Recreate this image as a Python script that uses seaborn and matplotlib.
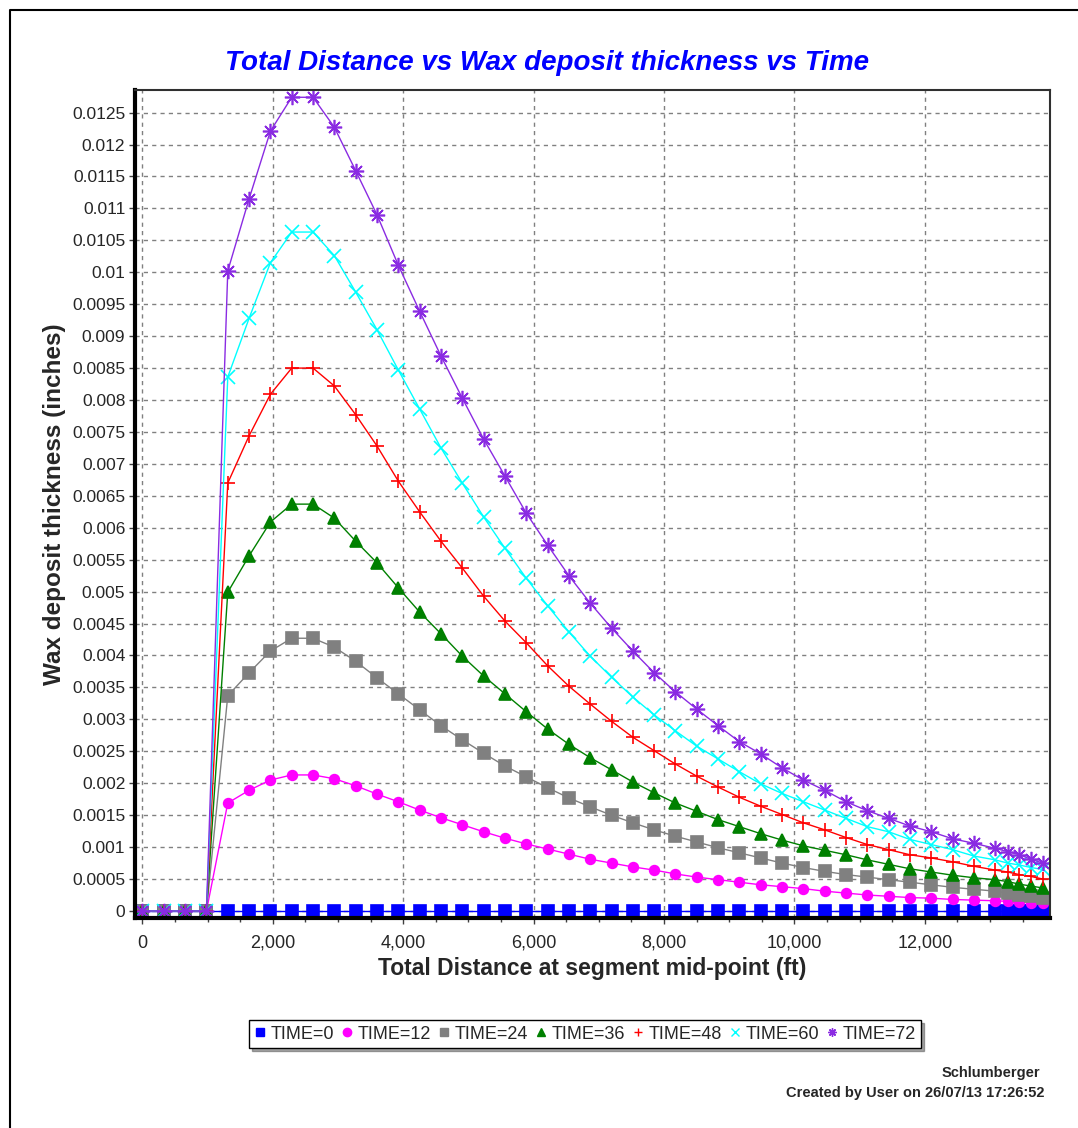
import matplotlib
matplotlib.use('Agg')
import matplotlib.pyplot as plt
from matplotlib.lines import Line2D
from matplotlib.ticker import MultipleLocator, FuncFormatter
import seaborn as sns

# distance at segment mid-point (ft)
distance = [0, 327, 654, 981, 1308, 1635, 1962, 2289, 2616, 2943, 3270, 3597,
            3924, 4251, 4578, 4905, 5232, 5559, 5886, 6213, 6540, 6867, 7194,
            7521, 7848, 8175, 8502, 8829, 9156, 9483, 9810, 10137, 10464, 10791,
            11118, 11445, 11772, 12099, 12426, 12753, 13080, 13270, 13450, 13630,
            13810]

# wax deposit thickness (inches) per time
time_0 = [0.0] * 45
time_12 = [0, 0, 0, 0, 0.00169, 0.00189, 0.00205, 0.00213, 0.00213, 0.00207,
           0.00196, 0.00183, 0.00171, 0.00158, 0.00146, 0.00135, 0.00124, 0.00114,
           0.00105, 0.00097, 0.00089, 0.00081, 0.00075, 0.00069, 0.00064, 0.00058,
           0.00053, 0.00049, 0.00045, 0.00041, 0.00038, 0.00035, 0.00031, 0.00028,
           0.00025, 0.00023, 0.00021, 0.00020, 0.00018, 0.00017, 0.00016, 0.00015,
           0.00014, 0.00013, 0.00012]
time_24 = [0, 0, 0, 0, 0.00337, 0.00373, 0.00407, 0.00427, 0.00427, 0.00413,
           0.00391, 0.00365, 0.00340, 0.00315, 0.00290, 0.00268, 0.00247, 0.00227,
           0.00210, 0.00193, 0.00177, 0.00163, 0.00150, 0.00138, 0.00127, 0.00117,
           0.00108, 0.00099, 0.00091, 0.00083, 0.00075, 0.00068, 0.00062, 0.00057,
           0.00053, 0.00049, 0.00045, 0.00041, 0.00037, 0.00034, 0.00031, 0.00028,
           0.00025, 0.00023, 0.00021]
time_36 = [0, 0, 0, 0, 0.00499, 0.00556, 0.00609, 0.00637, 0.00637, 0.00615,
           0.00579, 0.00545, 0.00506, 0.00468, 0.00434, 0.00399, 0.00368, 0.00340,
           0.00312, 0.00285, 0.00261, 0.00240, 0.00221, 0.00202, 0.00185, 0.00169,
           0.00156, 0.00143, 0.00132, 0.00121, 0.00111, 0.00102, 0.00095, 0.00088,
           0.00080, 0.00073, 0.00066, 0.00061, 0.00056, 0.00052, 0.00049, 0.00046,
           0.00042, 0.00039, 0.00036]
time_48 = [0, 0, 0, 0, 0.00670, 0.00744, 0.00809, 0.00850, 0.00850, 0.00822,
           0.00777, 0.00728, 0.00673, 0.00625, 0.00579, 0.00537, 0.00493, 0.00454,
           0.00420, 0.00384, 0.00352, 0.00324, 0.00297, 0.00272, 0.00251, 0.00230,
           0.00211, 0.00194, 0.00178, 0.00164, 0.00151, 0.00138, 0.00127, 0.00115,
           0.00104, 0.00096, 0.00088, 0.00083, 0.00077, 0.00070, 0.00064, 0.00061,
           0.00057, 0.00054, 0.00050]
time_60 = [0, 0, 0, 0, 0.00836, 0.00928, 0.01015, 0.01063, 0.01063, 0.01026,
           0.00969, 0.00910, 0.00847, 0.00786, 0.00725, 0.00670, 0.00617, 0.00568,
           0.00521, 0.00478, 0.00437, 0.00399, 0.00366, 0.00335, 0.00307, 0.00282,
           0.00258, 0.00238, 0.00218, 0.00199, 0.00184, 0.00171, 0.00158, 0.00145,
           0.00132, 0.00124, 0.00112, 0.00104, 0.00096, 0.00086, 0.00080, 0.00075,
           0.00072, 0.00068, 0.00065]
time_72 = [0, 0, 0, 0, 0.01002, 0.01115, 0.01221, 0.01274, 0.01274, 0.01227,
           0.01159, 0.01090, 0.01011, 0.00939, 0.00869, 0.00803, 0.00739, 0.00681,
           0.00623, 0.00573, 0.00525, 0.00482, 0.00443, 0.00407, 0.00373, 0.00343,
           0.00316, 0.00290, 0.00265, 0.00246, 0.00224, 0.00205, 0.00189, 0.00171,
           0.00157, 0.00145, 0.00133, 0.00124, 0.00113, 0.00106, 0.00098, 0.00093,
           0.00088, 0.00081, 0.00075]

labels = ['TIME=0', 'TIME=12', 'TIME=24', 'TIME=36', 'TIME=48', 'TIME=60', 'TIME=72']
series = [time_0, time_12, time_24, time_36, time_48, time_60, time_72]
colors = ['#0000ff', '#ff00ff', '#808080', '#008000', '#ff0000', '#00ffff', '#8a2be2']
markers = ['s', 'o', 's', '^', '+', 'x', (8, 2, 0)]
msizes = [8, 7, 8, 8, 10, 10, 11]

sns.set_style('white')
plt.rcParams['font.family'] = ['Liberation Sans', 'DejaVu Sans']

fig = plt.figure(figsize=(10.78, 11.28), dpi=100)
ax = fig.add_axes([135 / 1078, 1 - 918 / 1128, 915 / 1078, 828 / 1128])

for lab, vals, c, m, ms in zip(labels, series, colors, markers, msizes):
    sns.lineplot(x=distance, y=vals, ax=ax, color=c, marker=m, markersize=ms,
                 markeredgecolor=c, markerfacecolor=c, markeredgewidth=1.2,
                 linewidth=1, label=lab, legend=False)

ax.set_xlim(-115, 13920)
ax.set_ylim(-0.00011, 0.012854)

ax.xaxis.set_major_locator(MultipleLocator(2000))
ax.xaxis.set_minor_locator(MultipleLocator(500))
ax.yaxis.set_major_locator(MultipleLocator(0.0005))
ax.xaxis.set_major_formatter(FuncFormatter(lambda v, p: f'{int(v):,}'))
ax.yaxis.set_major_formatter(FuncFormatter(lambda v, p: ('%.4f' % v).rstrip('0').rstrip('.') if abs(v) > 1e-9 else '0'))

ax.grid(True, which='major', color='#808080', linestyle=(0, (3, 3)), linewidth=1)
ax.tick_params(axis='both', which='major', direction='out', length=4, width=1,
               color='#404040', labelsize=13, bottom=True, left=True)
ax.tick_params(axis='x', which='major', pad=8)
ax.tick_params(axis='y', which='major', pad=3, labelsize=12.5)
ax.tick_params(axis='x', which='minor', direction='out', length=3, width=1,
               color='#404040', bottom=True)

for side in ['left', 'bottom']:
    ax.spines[side].set_linewidth(3)
    ax.spines[side].set_color('black')
for side in ['top', 'right']:
    ax.spines[side].set_linewidth(1.5)
    ax.spines[side].set_color('#303030')

ax.set_xlabel('Total Distance at segment mid-point (ft)', fontsize=16.5, fontweight='bold', labelpad=4)
ax.set_ylabel('Wax deposit thickness (inches)', fontsize=17.5, fontweight='bold', labelpad=4)

fig.text(0.507, 0.944, 'Total Distance vs Wax deposit thickness vs Time', color='#0000ff',
         fontsize=20, fontweight='bold', fontstyle='italic', ha='center', va='center')

handles = [Line2D([], [], linestyle='', marker=m, color=c, markeredgecolor=c,
                  markersize=6) for m, c in zip(markers, colors)]
leg = fig.legend(handles, labels, loc='center', bbox_to_anchor=(0.543, 0.0833), ncol=7,
                 fontsize=13, frameon=True, fancybox=False, shadow=True,
                 handlelength=0.6, handletextpad=0.3, columnspacing=0.4,
                 borderpad=0.3, borderaxespad=0)
leg.get_frame().set_edgecolor('black')
leg.get_frame().set_linewidth(1)

fig.text(0.965, 0.0485, 'Schlumberger', fontsize=10.5, fontweight='bold', ha='right', va='center')
fig.text(0.969, 0.031, 'Created by User on 26/07/13 17:26:52', fontsize=10.5, fontweight='bold',
         ha='right', va='center')

# page border (top and left visible)
fig.add_artist(Line2D([10 / 1078, 10 / 1078, 1.0], [0.0, 1 - 10 / 1128, 1 - 10 / 1128],
                      transform=fig.transFigure, color='black', linewidth=1.5))

fig.savefig('out.png', dpi=100)
